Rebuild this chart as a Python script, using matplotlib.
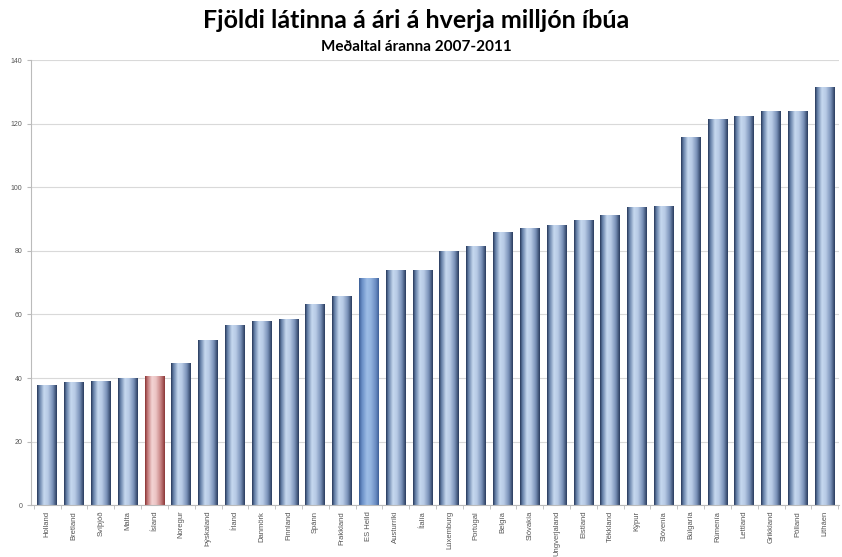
import matplotlib.pyplot as plt
import numpy as np
from matplotlib.colors import LinearSegmentedColormap

countries = ["Holland", "Bretland", "Svíþjóð", "Malta", "Ísland", "Noregur",
             "Þýskaland", "Írland", "Danmörk", "Finnland", "Spánn", "Frakkland",
             "ES Heild", "Austurríki", "Ítalía", "Lúxemburg", "Portúgal", "Belgía",
             "Slóvakía", "Ungverjaland", "Eistland", "Tékkland", "Kýpur", "Slóvenía",
             "Búlgaría", "Rúmenía", "Lettland", "Grikkland", "Pólland", "Litháen"]
deaths = [37.7, 38.9, 39.2, 40.0, 40.6, 44.8, 52.1, 56.8, 57.9, 58.6, 63.3, 65.8,
          71.4, 73.9, 74.1, 79.9, 81.4, 85.8, 87.2, 88.2, 89.7, 91.3, 93.8, 94.1,
          115.8, 121.4, 122.4, 124.0, 124.0, 131.5]

plt.rcParams['font.family'] = ['Liberation Sans', 'DejaVu Sans']

fig = plt.figure(figsize=(8.42, 5.57), dpi=100)
ax = fig.add_axes([0.037, 0.093, 0.96, 0.799])

x = np.arange(len(countries))
bars = ax.bar(x, deaths, width=0.74, color='none', edgecolor='none', zorder=2)

cm_blue = LinearSegmentedColormap.from_list('b', [(0, '#283a5b'), (0.12, '#6580a8'), (0.35, '#c6d8ef'),
                                                 (0.55, '#b7cae5'), (0.8, '#7890b7'), (1, '#2a3d5f')])
cm_red = LinearSegmentedColormap.from_list('r', [(0, '#8a3434'), (0.12, '#c07676'), (0.35, '#f3d3d3'),
                                                (0.55, '#ecc4c4'), (0.8, '#c58080'), (1, '#8c3838')])
cm_eu = LinearSegmentedColormap.from_list('e', [(0, '#3d5f96'), (0.15, '#6a8fc7'), (0.4, '#9dbde6'),
                                               (0.6, '#92b3df'), (0.85, '#6a8cc2'), (1, '#3f619a')])
grad = np.linspace(0, 1, 64).reshape(1, -1)

for name, b in zip(countries, bars):
    cmap = cm_blue
    if name == "Ísland":
        cmap = cm_red
    elif name == "ES Heild":
        cmap = cm_eu
    x0, w, h = b.get_x(), b.get_width(), b.get_height()
    im = ax.imshow(grad, cmap=cmap, extent=[x0, x0 + w, 0, h], aspect='auto', zorder=2)
    im.set_clip_path(b)

ax.set_xlim(-0.6, len(countries) - 0.45)
ax.set_ylim(0, 140)
ax.set_yticks(np.arange(0, 141, 20))
ax.set_xticks(x)
ax.set_xticklabels(countries, rotation=90, fontsize=5.5, color='#555555')
ax.set_xticks(np.arange(-0.5, len(countries), 1), minor=True)
ax.tick_params(axis='x', which='major', length=0, pad=4)
ax.tick_params(axis='x', which='minor', length=3, color='#bbbbbb')
ax.tick_params(axis='y', labelsize=5, colors='#555555', length=3, color='#bbbbbb')
ax.grid(axis='y', color='#d9d9d9', linewidth=0.8, zorder=0)
ax.set_axisbelow(True)
for s in ['top', 'right']:
    ax.spines[s].set_visible(False)
ax.spines['left'].set_color('#bbbbbb')
ax.spines['bottom'].set_color('#bbbbbb')

fig.text(0.494, 0.964, "Fjöldi látinna á ári á hverja milljón íbúa", ha='center', va='center',
         fontsize=18, fontweight='bold', family='Lato')
fig.text(0.494, 0.916, "Meðaltal áranna 2007-2011", ha='center', va='center',
         fontsize=11, fontweight='bold', family='Lato')

fig.savefig('out.png', dpi=100)
